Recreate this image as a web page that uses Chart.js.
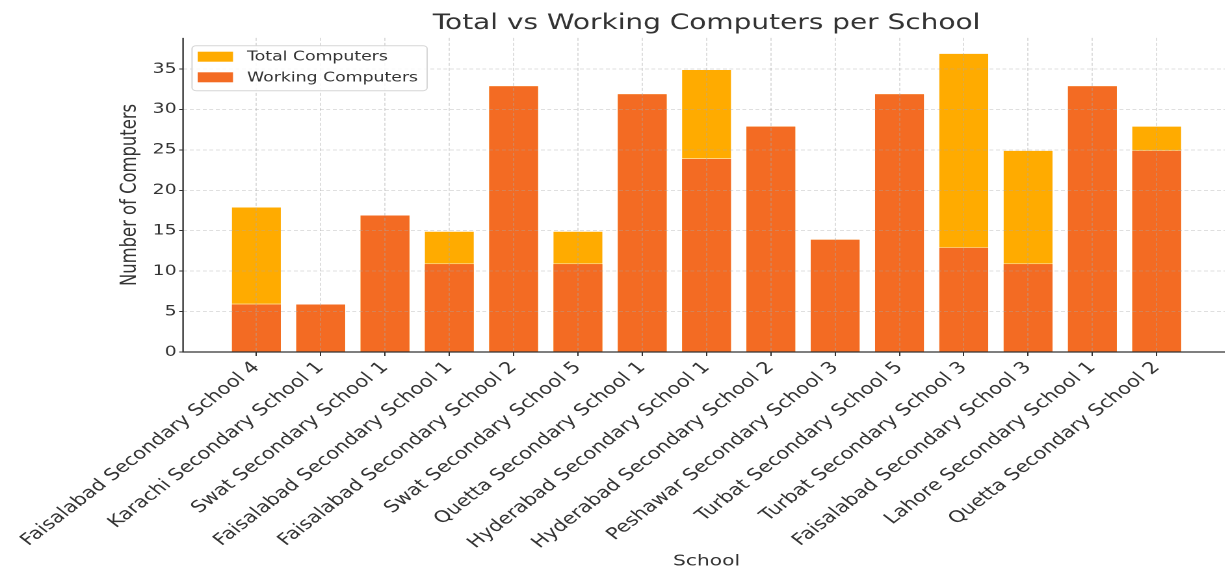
<!DOCTYPE html>
<html><head><meta charset="utf-8">
<script src="https://cdn.jsdelivr.net/npm/chart.js@4.4.1/dist/chart.umd.min.js"></script>
<style>
html,body{margin:0;padding:0;background:#fff;overflow:hidden;width:1225px;height:569px;}
#c{display:block;}
</style></head><body>
<canvas id="c" width="946" height="569"></canvas>
<script>
const categories = [
  'Faisalabad Secondary School 4', 'Karachi Secondary School 1', 'Swat Secondary School 1',
  'Faisalabad Secondary School 1', 'Faisalabad Secondary School 2', 'Swat Secondary School 5',
  'Quetta Secondary School 1', 'Hyderabad Secondary School 1', 'Hyderabad Secondary School 2',
  'Peshawar Secondary School 3', 'Turbat Secondary School 5', 'Turbat Secondary School 3',
  'Faisalabad Secondary School 3', 'Lahore Secondary School 1', 'Quetta Secondary School 2'
];
const totalComputers   = [18, 6, 17, 15, 33, 15, 32, 35, 28, 14, 32, 37, 25, 33, 28];
const workingComputers = [ 6, 6, 17, 11, 33, 11, 32, 24, 28, 14, 32, 13, 11, 33, 25];
const yTickValues = [0, 5, 10, 15, 20, 25, 30, 35];
const seriesNames = ['Total Computers', 'Working Computers'];
const seriesColors = ['#FFAB00', '#F36B23'];

const SX = 1.3;            // reference picture is stretched horizontally
const W = 946, H = 569;
const canvas = document.getElementById('c');
canvas.style.width = (W * SX) + 'px';
canvas.style.height = H + 'px';

Chart.defaults.font.family = "'DejaVu Sans', sans-serif";
Chart.defaults.color = '#333';

const gridCommon = {
  color: 'rgba(170,170,170,0.5)', lineWidth: 0.8, z: 1, offset: false,
  tickColor: '#333', tickWidth: 1, tickBorderDash: []
};
// border.dash styles the grid lines; the spines themselves are drawn solid below
const borderCommon = { display: false, dash: [3, 2], z: 1 };

const spines = {
  id: 'spines',
  afterDraw(chart) {
    const ctx = chart.ctx, a = chart.chartArea;
    ctx.save();
    ctx.strokeStyle = '#333';
    ctx.lineWidth = 1.2;
    ctx.setLineDash([]);
    ctx.beginPath();
    ctx.moveTo(a.left, a.top);
    ctx.lineTo(a.left, a.bottom);
    ctx.lineTo(a.right, a.bottom);
    ctx.stroke();
    ctx.restore();
  }
};

const refLegend = {
  id: 'refLegend',
  afterDraw(chart) {
    const ctx = chart.ctx, a = chart.chartArea;
    const x0 = a.left + 6.9, y0 = a.top + 7.8, w = 180.8, h = 45;
    ctx.save();
    ctx.beginPath();
    ctx.roundRect(x0, y0, w, h, 3);
    ctx.fillStyle = 'rgba(255,255,255,0.85)';
    ctx.fill();
    ctx.strokeStyle = '#d6d6d6';
    ctx.lineWidth = 1;
    ctx.stroke();
    ctx.font = "13.3px 'DejaVu Sans'";
    ctx.textBaseline = 'middle';
    seriesNames.forEach((name, i) => {
      const py = y0 + 6 + i * 20.6;
      ctx.fillStyle = seriesColors[i];
      ctx.fillRect(x0 + 4.3, py, 27.2, 10);
      ctx.fillStyle = '#333';
      ctx.fillText(name, x0 + 42.3, py + 5.5);
    });
    ctx.restore();
  }
};

new Chart(canvas, {
  type: 'bar',
  data: {
    datasets: [
      {
        label: seriesNames[0],
        data: categories.map((c, i) => ({ x: i, y: totalComputers[i] })),
        backgroundColor: seriesColors[0],
        borderColor: 'rgba(255,255,255,0.5)', borderWidth: 1,
        grouped: false, order: 2, barPercentage: 0.8, categoryPercentage: 1
      },
      {
        label: seriesNames[1],
        data: categories.map((c, i) => ({ x: i, y: workingComputers[i] })),
        backgroundColor: seriesColors[1],
        borderColor: 'rgba(255,255,255,0.5)', borderWidth: 1,
        grouped: false, order: 1, barPercentage: 0.8, categoryPercentage: 1
      }
    ]
  },
  options: {
    responsive: false, animation: false, devicePixelRatio: 2,
    layout: { padding: 0 },
    plugins: {
      legend: { display: false },
      tooltip: { enabled: false },
      title: {
        display: true, text: 'Total vs Working Computers per School',
        fullSize: false, position: 'top', color: '#333',
        font: { size: 21.5, weight: 'normal' },
        padding: { top: 10.6, bottom: 1.5 }
      }
    },
    scales: {
      x: {
        type: 'linear', min: -1.14, max: 15.14, offset: false,
        afterBuildTicks: s => { s.ticks = categories.map((c, i) => ({ value: i })); },
        afterFit: s => { s.height = 217; },
        ticks: {
          autoSkip: false, minRotation: 45, maxRotation: 45, color: '#333',
          font: { size: 16.3 }, padding: 2,
          callback: v => categories[v] !== undefined ? categories[v] : ''
        },
        grid: Object.assign({}, gridCommon, { tickLength: 4 }),
        border: borderCommon,
        title: { display: true, text: 'School', color: '#333', font: { size: 15.5 }, padding: { top: 0, bottom: -2 } }
      },
      y: {
        type: 'linear', min: 0, max: 38.85,
        afterBuildTicks: s => { s.ticks = yTickValues.map(v => ({ value: v })); },
        afterFit: s => { s.width = 140.8; },
        ticks: { color: '#333', font: { size: 14.5 }, padding: 2 },
        grid: Object.assign({}, gridCommon, { tickLength: 3 }),
        border: borderCommon,
        title: { display: true, text: 'Number of Computers', color: '#333', font: { size: 16.4 }, padding: { top: 90.6, bottom: 0 } }
      }
    }
  },
  plugins: [spines, refLegend]
});
</script>
</body></html>
